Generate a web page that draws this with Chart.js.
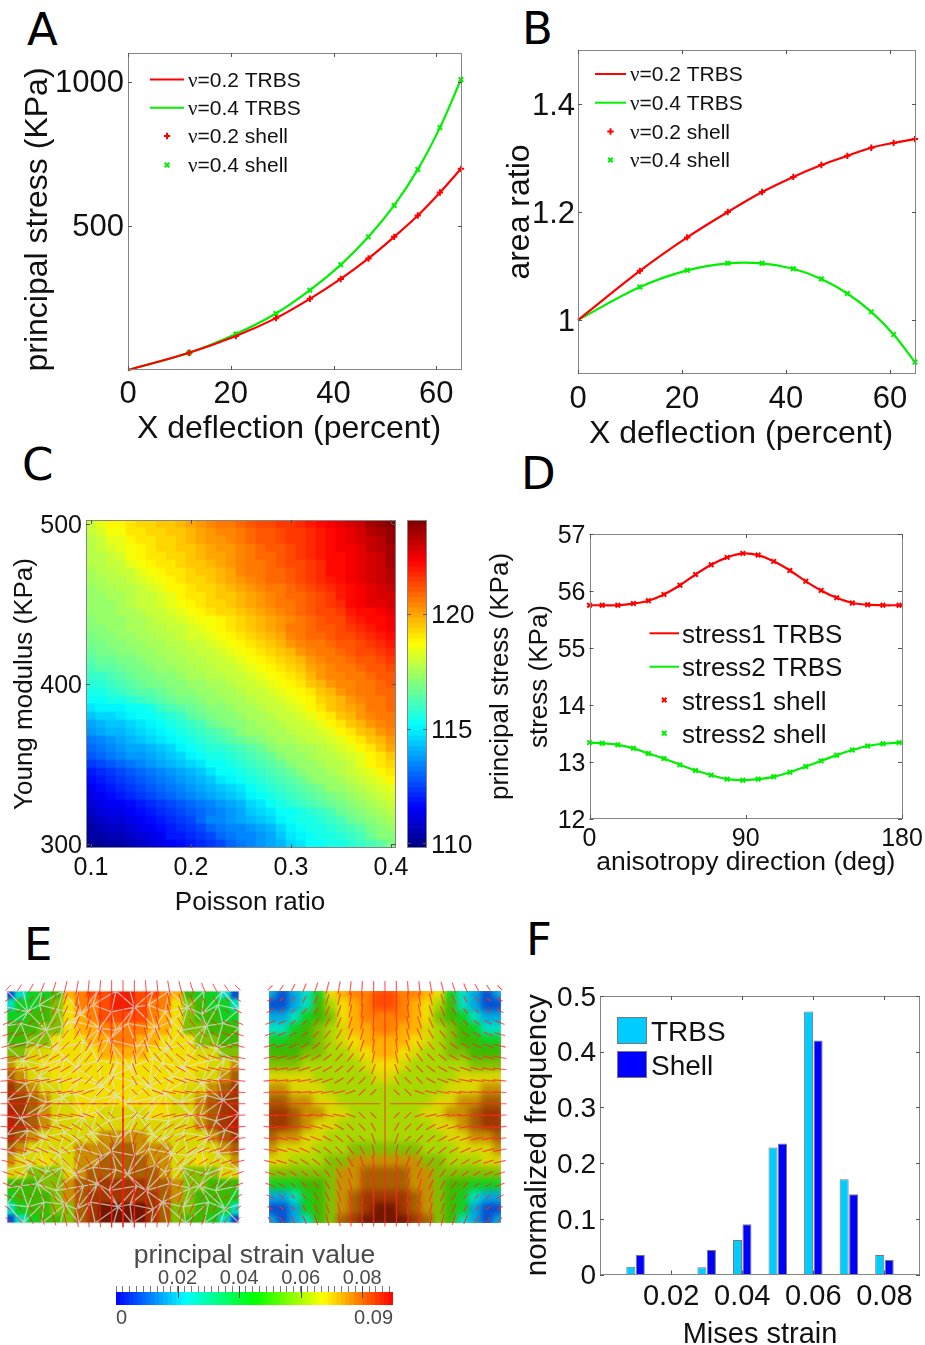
<!DOCTYPE html>
<html>
<head>
<meta charset="utf-8">
<title>Stress and strain panels</title>
<script src="https://cdn.jsdelivr.net/npm/chart.js@4.4.1/dist/chart.umd.min.js"></script>
<style>
html, body { margin: 0; background: #fff; }
#page { position: relative; width: 925px; height: 1345px; overflow: hidden; }
canvas { position: absolute; }
.letter { position: absolute; font: 45px "DejaVu Sans"; line-height: 1; color: #000; }
.clip { position: absolute; overflow: hidden; }
</style>
</head>
<body>
<div id="page">
  <div class="letter" style="left:27px;top:7px">A</div>
  <div class="letter" style="left:522px;top:6px">B</div>
  <div class="letter" style="left:22px;top:442px">C</div>
  <div class="letter" style="left:521px;top:451px">D</div>
  <div class="letter" style="left:24px;top:922px">E</div>
  <div class="letter" style="left:526px;top:917px">F</div>
</div>
<script>
// panel A
const aDeflection = [0, 11.9, 21, 28.8, 35.4, 41.4, 46.8, 51.8, 56.4, 60.7, 64.8];
const aStress02 = [0, 60, 118, 180, 247, 316, 387, 462, 536, 616, 698];
const aStress04 = [0, 60, 125, 196, 277, 365, 462, 571, 696, 841, 1008];
const aXTicks = [0, 20, 40, 60];
const aYTicks = [500, 1000];

// panel B
const bRatio02 = [1, 1.091, 1.153, 1.2, 1.237, 1.265, 1.287, 1.304, 1.319, 1.328, 1.335];
const bRatio04 = [1, 1.061, 1.092, 1.105, 1.105, 1.095, 1.076, 1.049, 1.015, 0.973, 0.922];
const bYTicks = [1, 1.2, 1.4];

// panel C, colour levels (0-63) of the 64 step colormap, top row is 500 KPa
const poissonValues = [];
for (let c = 0; c < 31; c++) poissonValues.push(0.1 + c * 0.01);
const cXTicks = [0.1, 0.2, 0.3, 0.4];
const cYTicks = [300, 400, 500];
const barTicks = [110, 115, 120];
const stressLevels = [
  [36,38,40,40,41,42,42,43,43,44,45,46,47,48,48,49,50,51,51,52,52,53,54,55,56,57,58,59,61,62,63],
  [36,37,39,39,41,41,42,42,43,43,44,45,46,47,47,48,49,50,50,51,52,52,53,54,55,56,57,58,60,61,62],
  [35,36,38,38,40,41,41,42,42,43,44,45,46,46,47,48,49,50,50,51,52,52,53,54,55,56,57,58,59,60,62],
  [35,36,37,38,39,40,41,42,42,43,43,44,45,46,46,47,48,49,50,50,51,52,53,54,55,56,56,57,59,60,61],
  [35,35,36,37,39,40,41,41,42,42,43,44,45,45,46,47,48,49,49,50,51,52,53,54,55,55,56,57,58,59,61],
  [35,35,36,36,38,39,40,41,41,42,43,43,44,45,46,47,48,48,49,50,51,51,52,53,55,55,56,57,58,59,61],
  [34,35,35,36,36,38,39,40,41,41,42,43,43,44,45,47,48,48,49,49,50,51,52,53,55,55,56,57,58,59,60],
  [34,34,35,35,36,37,38,39,40,41,42,42,43,44,45,46,47,48,49,49,50,51,52,53,54,55,56,57,58,59,60],
  [33,34,34,35,35,36,37,38,40,40,41,42,42,43,44,45,46,47,48,48,49,50,51,52,53,54,55,56,57,58,59],
  [33,33,34,34,35,36,36,37,38,40,41,41,42,43,43,44,45,46,47,48,49,49,50,51,52,54,55,56,57,58,58],
  [33,33,33,34,35,36,36,37,38,39,40,41,42,42,43,44,45,46,47,48,48,49,50,51,52,53,55,56,57,57,58],
  [33,33,33,34,34,35,36,36,37,38,39,40,41,42,42,43,44,45,46,47,48,49,50,51,51,52,54,55,55,56,57],
  [32,33,33,33,34,34,35,36,36,37,38,39,39,40,41,42,43,44,45,46,47,48,49,50,51,51,53,54,55,55,56],
  [32,32,33,33,34,34,35,35,36,36,37,38,39,40,41,42,43,44,45,46,48,48,49,50,50,51,52,53,54,55,56],
  [31,32,32,33,33,34,34,35,35,36,37,37,38,39,40,41,42,43,44,45,47,48,49,49,50,51,51,52,53,54,55],
  [31,31,32,32,33,33,34,34,35,35,36,36,37,38,39,40,41,42,43,44,46,47,48,48,49,50,50,51,52,53,54],
  [30,31,31,32,32,33,33,34,34,35,35,36,36,37,38,39,40,41,42,43,44,46,47,48,48,49,50,51,51,52,53],
  [29,30,30,31,31,32,33,33,34,34,35,35,36,36,37,38,39,40,41,42,43,44,46,47,48,48,49,50,50,51,52],
  [28,29,29,30,31,31,32,33,33,34,34,35,35,36,36,37,38,39,40,41,42,43,45,46,47,48,48,49,50,50,51],
  [27,27,28,29,30,31,31,32,32,33,34,34,35,35,36,36,37,38,39,40,41,42,44,46,47,47,48,48,49,50,50],
  [26,26,27,28,29,30,31,31,32,32,33,33,34,34,35,36,36,37,38,39,40,41,43,44,46,47,47,48,48,49,50],
  [25,25,26,27,28,29,29,30,31,32,32,33,33,34,34,35,36,36,37,38,39,40,41,43,44,46,47,48,48,49,49],
  [24,24,25,25,26,27,28,29,30,31,31,32,33,33,34,34,35,36,36,37,38,39,40,42,43,44,46,47,48,48,49],
  [22,23,23,23,24,24,25,27,28,29,30,31,32,32,33,34,34,35,36,36,37,38,40,41,43,44,45,46,48,48,49],
  [20,21,21,22,23,24,24,25,26,27,29,30,31,32,32,33,34,34,35,36,36,37,38,40,41,43,44,46,47,48,48],
  [18,19,20,20,21,22,23,24,25,26,27,28,30,31,32,32,33,34,34,35,36,36,37,38,40,41,43,44,46,47,48],
  [17,18,19,19,20,21,22,23,24,25,26,27,28,29,30,32,33,33,34,34,35,36,36,37,38,40,41,43,44,46,47],
  [15,16,17,18,19,20,21,22,23,24,25,26,27,28,29,30,31,32,33,34,34,35,36,36,37,38,40,41,43,44,46],
  [14,15,16,17,18,18,19,20,21,23,24,25,26,26,27,28,29,30,32,33,33,34,34,35,36,37,38,40,41,43,45],
  [13,14,15,16,17,17,18,19,20,21,23,24,25,25,26,27,28,29,30,32,33,33,34,35,35,36,37,38,40,41,43],
  [11,12,13,14,15,16,17,18,19,20,21,22,24,24,25,26,27,28,29,30,32,33,33,34,35,35,36,38,40,41,42],
  [9,10,11,12,13,14,15,16,17,18,19,20,22,24,24,25,26,27,28,29,30,32,33,33,34,35,36,37,38,40,41],
  [8,9,10,11,12,13,14,15,16,17,18,19,20,22,23,24,25,26,27,28,29,30,32,33,33,34,35,36,37,38,40],
  [7,8,9,10,11,12,13,14,15,16,17,18,19,20,21,22,24,25,26,27,28,29,30,31,33,33,34,35,36,37,38],
  [6,7,8,9,10,11,12,13,14,15,16,17,18,19,20,21,23,24,25,26,27,28,29,30,31,32,33,34,35,36,37],
  [5,6,7,7,8,9,10,11,12,13,14,15,16,17,18,19,21,22,24,25,26,27,28,29,30,31,32,33,34,35,36],
  [4,5,6,6,7,8,9,10,11,12,13,14,15,16,17,18,20,21,22,24,24,25,26,27,28,30,31,32,33,34,35],
  [3,4,5,5,6,7,8,9,10,11,12,14,16,16,17,18,19,20,21,23,24,25,25,26,27,28,30,31,32,33,34],
  [2,3,4,4,5,6,7,8,9,10,11,12,14,15,16,16,17,18,19,21,23,24,25,25,26,27,28,29,31,32,33],
  [2,2,3,3,4,5,6,7,9,9,10,11,12,14,15,16,16,17,18,20,22,23,24,25,25,26,27,28,30,32,32],
  [1,1,2,2,3,4,5,6,7,8,9,10,11,12,14,15,16,17,18,19,21,22,24,24,25,25,26,27,28,29,31]
];

// panel D, the upper curve sits above a break in the axis
const dAngles = [0, 7.3, 16.3, 25.3, 33.9, 42.9, 52.1, 61.1, 70.1, 79.3, 88.3, 97.1, 106.1, 115.4, 124.6, 133.4, 142.4, 151.4, 160.2, 169, 178.3];
const dStress1 = [55.75, 55.75, 55.75, 55.78, 55.83, 55.94, 56.1, 56.29, 56.46, 56.59, 56.66, 56.63, 56.52, 56.36, 56.17, 56.01, 55.88, 55.79, 55.76, 55.75, 55.75];
const dStress2 = [13.34, 13.33, 13.3, 13.24, 13.15, 13.06, 12.95, 12.85, 12.77, 12.7, 12.68, 12.7, 12.74, 12.82, 12.92, 13.02, 13.12, 13.21, 13.28, 13.32, 13.34];
const dBreak = 40;
const dXTicks = [0, 90, 180];
const dYTicks = [12, 13, 14, 15, 16, 17];
const dYLabels = ['12', '13', '14', '55', '56', '57'];

// panel E, left half of each colour field (right half mirrors it), top row first
const fieldPalette = ['#0a4fd0', '#00a8e0', '#00e0c0', '#10d020', '#40b800', '#80c000', '#a8d800', '#d8d800', '#f0e000', '#ffb000', '#ff8000', '#ff4c00', '#c89000', '#a86000', '#a03800', '#701800', '#b82000', '#f02000'];
const meshField = [
  [0,2,3,3,4,9,10,11,11,17],
  [2,3,3,4,5,8,10,10,11,17],
  [3,3,4,4,5,8,9,10,11,11],
  [4,4,4,5,5,8,9,9,10,10],
  [4,4,5,5,8,8,8,9,9,10],
  [5,5,7,7,8,8,8,8,9,9],
  [12,7,7,8,8,8,8,8,8,8],
  [13,12,7,7,8,8,8,8,8,8],
  [14,13,12,7,7,8,8,8,8,8],
  [14,14,13,12,7,7,8,8,8,8],
  [16,14,13,12,7,7,8,8,7,7],
  [16,14,13,12,7,7,7,7,7,7],
  [14,13,12,7,7,7,7,7,12,12],
  [13,12,7,7,7,7,12,12,12,13],
  [12,7,7,8,7,7,12,12,13,13],
  [7,7,5,5,5,7,12,13,13,13],
  [4,4,4,5,5,12,13,13,14,14],
  [3,4,4,4,5,12,13,14,14,14],
  [2,3,4,4,5,5,13,14,15,15],
  [0,2,3,4,4,5,13,14,15,15]
];
const shellField = [
  [1,0,1,2,3,8,9,10,10,11],
  [0,0,1,2,4,6,8,9,10,11],
  [1,1,2,3,4,5,8,9,10,10],
  [2,2,3,4,5,6,7,9,9,10],
  [3,3,4,4,5,6,7,8,9,9],
  [4,4,4,5,5,6,6,7,8,9],
  [5,5,5,6,6,6,6,6,7,8],
  [7,7,7,7,6,6,6,6,6,7],
  [12,12,7,7,7,6,6,6,6,6],
  [13,13,12,12,7,7,6,6,6,6],
  [14,14,13,12,12,7,7,6,6,6],
  [14,14,13,12,7,7,6,6,6,6],
  [13,12,12,7,7,6,6,6,6,6],
  [12,7,7,7,6,6,6,5,5,5],
  [7,7,6,6,6,5,5,12,12,12],
  [5,5,5,5,5,5,12,12,13,13],
  [3,3,3,4,4,5,12,12,13,13],
  [1,1,2,3,4,5,12,13,14,14],
  [0,0,1,3,4,5,12,13,14,15],
  [1,0,1,2,4,5,13,14,15,15]
];
// mesh nodes in percent of the square, measured from the top left corner
const meshX = [
  [0,7,15,24,30,39,47,53,63,70,76,85,93,100],
  [0,9,14,22,32,37,45,55,61,68,78,84,91,100],
  [0,6,17,24,29,40,47,52,64,71,75,86,93,100],
  [0,9,13,21,33,36,44,56,60,69,79,83,90,100],
  [0,7,16,25,30,39,48,53,63,67,76,87,94,100],
  [0,8,14,22,31,41,45,55,61,71,78,84,91,100],
  [0,10,17,24,29,37,47,52,64,68,75,86,93,100],
  [0,6,13,21,33,39,44,56,60,70,79,83,90,100],
  [0,9,16,25,30,36,48,53,63,67,76,87,94,100],
  [0,7,14,22,32,41,45,55,61,71,78,84,91,100],
  [0,10,17,24,29,37,47,52,64,68,75,86,93,100],
  [0,6,13,21,33,39,44,56,60,70,79,83,90,100],
  [0,9,16,25,30,36,48,53,63,67,76,87,94,100],
  [0,7,15,23,31,38,46,54,62,69,77,85,92,100]
];
const meshY = [
  [0,0,0,0,0,0,0,0,0,0,0,0,0,0],
  [7,9,6,8,10,6,9,7,6,9,7,10,6,8],
  [15,14,17,15,13,16,17,14,16,13,17,15,14,16],
  [24,22,23,25,22,24,21,24,23,25,22,23,25,22],
  [31,30,32,29,33,30,31,33,29,31,33,30,29,31],
  [38,40,37,39,38,41,37,39,41,37,38,40,38,39],
  [47,45,48,46,44,47,45,48,46,44,48,45,47,46],
  [54,55,53,56,54,52,56,53,55,56,53,54,56,53],
  [62,60,63,61,64,61,63,60,62,64,61,63,60,62],
  [69,71,68,70,68,71,69,71,68,70,71,68,70,69],
  [77,75,78,76,79,76,77,79,75,78,76,79,76,77],
  [85,84,83,86,84,83,86,84,86,83,85,84,86,84],
  [92,93,91,92,94,91,93,92,94,91,93,91,94,92],
  [100,100,100,100,100,100,100,100,100,100,100,100,100,100]
];
// direction field, upper left quadrant: glyph centres, angle in degrees, length
const glyphCols = [5, 54, 104, 153, 203, 252, 302, 351, 401, 450, 500];
const glyphRows = [-14, 36, 86, 136, 186, 236, 286, 336, 386, 436, 486];
const glyphAngles = [
  [45,55,62,68,72,76,80,84,86,88,90],
  [35,45,55,62,68,72,77,82,85,88,90],
  [28,35,45,52,60,66,72,78,83,87,90],
  [22,28,38,45,52,60,66,74,80,86,90],
  [18,22,30,38,45,52,60,68,76,84,90],
  [14,18,24,30,38,45,52,60,72,82,90],
  [10,14,18,24,30,38,45,52,60,78,90],
  [7,10,12,18,22,30,38,45,45,70,90],
  [5,6,8,10,15,20,30,45,45,60,90],
  [3,3,4,5,8,10,12,20,45,45,90],
  [0,0,0,0,0,0,0,0,0,0,90]
];
const glyphLengths = [
  [25,25,30,35,40,45,48,50,50,50,50],
  [25,20,22,28,35,40,45,50,50,50,50],
  [30,22,20,25,30,38,45,50,50,50,50],
  [38,28,25,25,30,36,42,48,50,50,50],
  [40,35,30,30,30,36,40,45,45,50,50],
  [45,40,38,36,36,35,38,40,45,50,50],
  [50,45,45,42,40,38,38,38,36,45,50],
  [50,50,48,45,45,40,38,35,30,40,50],
  [50,50,50,50,50,45,40,35,35,35,50],
  [50,50,50,50,50,50,45,40,35,30,50],
  [50,50,50,50,50,50,50,50,50,50,50]
];
const strainMajorTicks = [0.02, 0.04, 0.06, 0.08];
const strainEndTicks = [0, 0.09];

// panel F
const fBins = [0.01, 0.02, 0.03, 0.04, 0.05, 0.06, 0.07, 0.08];
const fTrbs = [0.014, 0, 0.013, 0.062, 0.228, 0.472, 0.171, 0.035];
const fShell = [0.035, 0, 0.044, 0.09, 0.235, 0.42, 0.144, 0.026];
const fXTicks = [0.02, 0.04, 0.06, 0.08];
const fYTicks = [0, 0.1, 0.2, 0.3, 0.4, 0.5];

const RED = '#ff0000';
const GREEN = '#00f000';
const SANS = '"Liberation Sans"';
const INK = '#111';

Chart.defaults.animation = false;
Chart.defaults.font.family = SANS;
Chart.defaults.color = INK;

function clamp01(v) { return Math.max(0, Math.min(1, v)); }
function rgb(r, g, b) { return `rgb(${Math.round(r * 255)},${Math.round(g * 255)},${Math.round(b * 255)})`; }
function jetColor(level) {
  const t = (level + 0.5) / 64;
  return rgb(clamp01(1.5 - Math.abs(4 * t - 3)), clamp01(1.5 - Math.abs(4 * t - 2)), clamp01(1.5 - Math.abs(4 * t - 1)));
}
function rainbowColor(t) {
  const stops = [[0, 0, 1], [0, 1, 1], [0, 1, 0], [1, 1, 0], [1, 0, 0]];
  const p = Math.min(t * 4, 3.999), i = Math.floor(p), f = p - i;
  return rgb(stops[i][0] + (stops[i + 1][0] - stops[i][0]) * f, stops[i][1] + (stops[i + 1][1] - stops[i][1]) * f, stops[i][2] + (stops[i + 1][2] - stops[i][2]) * f);
}

function addCanvas(box, parent) {
  const c = document.createElement('canvas');
  c.width = box.w; c.height = box.h;
  c.style.left = box.x + 'px'; c.style.top = box.y + 'px';
  c.style.width = box.w + 'px'; c.style.height = box.h + 'px';
  (parent || document.getElementById('page')).appendChild(c);
  return c;
}
function zip(xs, ys) { return xs.map((x, i) => ({ x: x, y: ys[i] })); }
function fitSize(size) {
  return s => {
    if (s.isHorizontal()) s.height = size; else s.width = size;
    s.paddingLeft = s.paddingRight = s.paddingTop = s.paddingBottom = 0;
  };
}
function axis(min, max, values, labels, fontSize, pad, size, title) {
  return {
    type: 'linear', min: min, max: max, offset: false,
    grid: { display: false, drawTicks: false }, border: { display: false },
    afterBuildTicks: s => { s.ticks = values.map(v => ({ value: v })); },
    afterFit: fitSize(size),
    ticks: {
      autoSkip: false, maxRotation: 0, minRotation: 0, padding: pad, color: INK,
      font: { size: fontSize },
      callback: (v, i) => labels ? labels[i] : String(v)
    },
    // bottom axes read padding.bottom, left axes read padding.top
    title: title ? { display: true, text: title.text, color: INK, font: { size: title.size }, padding: { top: title.pad, bottom: title.pad } } : { display: false }
  };
}
// vertical axes: the labels sit a little under their ticks in the reference
function yAxis(min, max, values, labels, fontSize, pad, size, title) {
  const a = axis(min, max, values, labels, fontSize, pad, size, title);
  a.ticks.labelOffset = 2;
  return a;
}
function gaps(box, plot) {
  return { left: plot.l - box.x, top: plot.t - box.y, right: box.x + box.w - plot.r, bottom: box.y + box.h - plot.b };
}
// frame of the axes with short inward ticks on all sides
const framePlugin = {
  id: 'axesFrame',
  afterDraw(chart) {
    const { ctx, chartArea: a, scales } = chart;
    ctx.save();
    ctx.strokeStyle = '#858585';
    ctx.lineWidth = 1;
    ctx.strokeRect(Math.round(a.left) + 0.5, Math.round(a.top) + 0.5, Math.round(a.right - a.left) - 1, Math.round(a.bottom - a.top) - 1);
    ctx.strokeStyle = '#555';
    ctx.beginPath();
    if (scales.x.options.display) scales.x.ticks.forEach(t => {
      const p = Math.round(scales.x.getPixelForValue(t.value)) + 0.5;
      ctx.moveTo(p, a.bottom); ctx.lineTo(p, a.bottom - 4);
      ctx.moveTo(p, a.top); ctx.lineTo(p, a.top + 4);
    });
    scales.y.ticks.forEach(t => {
      const p = Math.round(scales.y.getPixelForValue(t.value)) + 0.5;
      ctx.moveTo(a.left, p); ctx.lineTo(a.left + 4, p);
      ctx.moveTo(a.right, p); ctx.lineTo(a.right - 4, p);
    });
    ctx.stroke();
    ctx.restore();
  }
};
// slides a native axis title along the page
function titleShift(id, dx, dy) {
  return {
    id: 'titleShift' + id,
    afterLayout(chart) {
      const s = chart.scales[id];
      if (s.shifted) return;
      s.shifted = true;
      const draw = s.drawTitle;
      s.drawTitle = function () {
        this.ctx.save();
        this.ctx.translate(dx, dy);
        draw.call(this);
        this.ctx.restore();
      };
    }
  };
}
// legend placed inside the axes, rows follow the dataset order
function keyPlugin(k) {
  return {
    id: 'plotKey',
    afterDraw(chart) {
      const ctx = chart.ctx, off = chart.canvas.getBoundingClientRect();
      ctx.save();
      ctx.textBaseline = 'middle';
      chart.data.datasets.forEach((d, i) => {
        const y = k.ys[i] - off.top;
        if (k.swatch) {
          ctx.fillStyle = d.backgroundColor; ctx.strokeStyle = '#777';
          ctx.fillRect(k.x0 - off.left, k.ys[i] - off.top, k.x1 - k.x0, k.swatch);
          ctx.strokeRect(k.x0 - off.left + 0.5, k.ys[i] - off.top + 0.5, k.x1 - k.x0 - 1, k.swatch - 1);
        } else if (d.showLine) {
          ctx.strokeStyle = d.borderColor; ctx.lineWidth = 2;
          ctx.beginPath(); ctx.moveTo(k.x0 - off.left, y); ctx.lineTo(k.x1 - off.left, y); ctx.stroke();
        } else {
          ctx.strokeStyle = d.borderColor; ctx.fillStyle = d.borderColor; ctx.lineWidth = d.pointBorderWidth;
          Chart.helpers.drawPoint(ctx, { pointStyle: d.pointStyle, radius: d.pointRadius, borderWidth: d.pointBorderWidth, rotation: 0 }, (k.x0 + k.x1) / 2 - off.left, y);
        }
        ctx.fillStyle = INK;
        let x = k.tx - off.left, text = d.label;
        const ty = (k.swatch ? y + k.swatch / 2 : y) + k.dy;
        if (text[0] === '\u03bd') {
          ctx.font = `${k.size}px "Liberation Serif"`;
          ctx.fillText(text[0], x, ty);
          x += ctx.measureText(text[0]).width;
          text = text.slice(1);
        }
        ctx.font = `${k.size}px ${SANS}`;
        ctx.fillText(text, x, ty);
      });
      ctx.restore();
    }
  };
}
function curve(label, pts, color) {
  return { label: label, data: pts, showLine: true, borderColor: color, backgroundColor: color, borderWidth: 2.2, pointRadius: 0, tension: 0.35, clip: 8 };
}
function marks(label, pts, color, style) {
  return { label: label, data: pts, showLine: false, borderColor: color, backgroundColor: color, pointStyle: style, pointRadius: 3.2, pointBorderWidth: 2, pointBorderColor: color, pointBackgroundColor: color, clip: 8 };
}
function xyChart(box, plot, cfg) {
  const g = gaps(box, plot);
  return new Chart(addCanvas(box), {
    type: cfg.type || 'scatter',
    data: { datasets: cfg.datasets },
    options: {
      responsive: false,
      layout: { padding: { top: g.top, right: g.right, left: 0, bottom: 0 } },
      plugins: { legend: { display: false }, tooltip: { enabled: false } },
      scales: cfg.scales(g)
    },
    plugins: [framePlugin].concat(cfg.plugins || [])
  });
}

// A
(function () {
  const box = { x: 0, y: 40, w: 480, h: 410 }, plot = { l: 128, t: 53, r: 462, b: 370 };
  xyChart(box, plot, {
    datasets: [
      curve('\u03bd=0.2 TRBS', zip(aDeflection, aStress02), RED),
      curve('\u03bd=0.4 TRBS', zip(aDeflection, aStress04), GREEN),
      marks('\u03bd=0.2 shell', zip(aDeflection, aStress02).slice(1), RED, 'cross'),
      marks('\u03bd=0.4 shell', zip(aDeflection, aStress04).slice(1), GREEN, 'crossRot')
    ],
    scales: g => ({
      x: axis(0, 65, aXTicks, null, 31, 6, g.bottom, { text: 'X deflection (percent)', size: 32, pad: 2 }),
      y: yAxis(0, 1100, aYTicks, null, 31, 4, g.left, { text: 'principal stress (KPa)', size: 32, pad: 38 - 19 })
    }),
    plugins: [titleShift('x', -6, 0), titleShift('y', 0, 8), keyPlugin({ x0: 150, x1: 184, tx: 188, size: 21, dy: 1.5, ys: [79.5, 107.7, 136, 165] })]
  });
})();

// B
(function () {
  const box = { x: 490, y: 40, w: 435, h: 415 }, plot = { l: 578, t: 50, r: 916, b: 374 };
  xyChart(box, plot, {
    datasets: [
      curve('\u03bd=0.2 TRBS', zip(aDeflection, bRatio02), RED),
      curve('\u03bd=0.4 TRBS', zip(aDeflection, bRatio04), GREEN),
      marks('\u03bd=0.2 shell', zip(aDeflection, bRatio02).slice(1), RED, 'cross'),
      marks('\u03bd=0.4 shell', zip(aDeflection, bRatio04).slice(1), GREEN, 'crossRot')
    ],
    scales: g => ({
      x: axis(0, 65, aXTicks, null, 31, 6.5, g.bottom, { text: 'X deflection (percent)', size: 32, pad: 2 }),
      y: yAxis(0.9, 1.5, bYTicks, null, 31, 3, g.left, { text: 'area ratio', size: 32, pad: 520 - 490 - 19 })
    }),
    plugins: [titleShift('x', -6, 0), keyPlugin({ x0: 595, x1: 626, tx: 630, size: 21, dy: 1.5, ys: [74, 102.7, 131.5, 160] })]
  });
})();

// C
(function () {
  const box = { x: 0, y: 510, w: 425, h: 410 }, plot = { l: 86, t: 520, r: 396, b: 848 };
  const cells = [], colors = [];
  stressLevels.forEach((row, r) => {
    const modulus = 500 - r * 5;
    row.forEach((level, c) => {
      cells.push({ x: poissonValues[c], y: [modulus - 2.5, modulus + 2.5] });
      colors.push(jetColor(level));
    });
  });
  xyChart(box, plot, {
    type: 'bar',
    datasets: [{ data: cells, backgroundColor: colors, barThickness: 10, grouped: false }],
    scales: g => ({
      x: axis(0.095, 0.405, cXTicks, null, 25, 5, g.bottom, { text: 'Poisson ratio', size: 26, pad: 1.5 }),
      y: yAxis(297.5, 502.5, cYTicks, null, 25, 4, g.left, { text: 'Young modulus (KPa)', size: 26, pad: 25 - 16 })
    }),
    plugins: [titleShift('x', 9, 0)]
  });

  // colour bar
  const barBox = { x: 402, y: 510, w: 80, h: 350 }, barPlot = { l: 407, t: 520, r: 427, b: 848 };
  const g = gaps(barBox, barPlot), bands = [], bandColors = [];
  for (let i = 0; i < 64; i++) {
    bands.push({ x: 0, y: [109.8 + i * 14.3 / 64, 109.8 + (i + 1) * 14.3 / 64] });
    bandColors.push(jetColor(i));
  }
  new Chart(addCanvas(barBox), {
    type: 'bar',
    data: { datasets: [{ data: bands, backgroundColor: bandColors, barThickness: 20, grouped: false }] },
    options: {
      responsive: false,
      layout: { padding: { left: g.left, top: g.top, bottom: g.bottom, right: 0 } },
      plugins: { legend: { display: false }, tooltip: { enabled: false } },
      scales: {
        x: { type: 'linear', display: false, offset: false, min: -0.5, max: 0.5 },
        y: Object.assign(yAxis(109.8, 124.1, barTicks, null, 26, 4, g.right), { position: 'right' })
      }
    },
    plugins: [framePlugin]
  });
})();

// D
(function () {
  const box = { x: 480, y: 515, w: 445, h: 365 }, plot = { l: 589.5, t: 534, r: 902, b: 819 };
  const s1 = zip(dAngles, dStress1.map(v => v - dBreak)), s2 = zip(dAngles, dStress2);
  xyChart(box, plot, {
    datasets: [
      curve('stress1 TRBS', s1.concat({ x: 180, y: s1[s1.length - 1].y }), RED),
      curve('stress2 TRBS', s2.concat({ x: 180, y: s2[s2.length - 1].y }), GREEN),
      marks('stress1 shell', s1, RED, 'crossRot'),
      marks('stress2 shell', s2, GREEN, 'crossRot')
    ],
    scales: g => ({
      x: axis(0, 180, dXTicks, null, 25, 5, g.bottom, { text: 'anisotropy direction (deg)', size: 26.5, pad: 1 }),
      y: Object.assign(yAxis(12, 17, dYTicks, dYLabels, 25, 4, 69.5, { text: 'stress (KPa)', size: 26, pad: 540 - 520 - 16 }), { weight: 0 }),
      yOuter: {
        type: 'linear', position: 'left', weight: 1, min: 0, max: 1,
        grid: { display: false }, border: { display: false }, ticks: { display: false },
        afterFit: fitSize(40),
        title: { display: true, text: 'principal stress (KPa)', color: INK, font: { size: 26 }, padding: { top: 501.7 - 480 - 16, bottom: 0 } }
      }
    }),
    plugins: [keyPlugin({ x0: 649.5, x1: 679, tx: 682, size: 26, dy: 2.5, ys: [633.3, 666.7, 700, 733.3] })]
  });
})();

// E, colour field bars inside a clipping square
function fieldChart(x, y, rows, blur) {
  const wrap = document.createElement('div');
  wrap.className = 'clip';
  wrap.style.cssText = `left:${x}px;top:${y}px;width:232px;height:232px`;
  document.getElementById('page').appendChild(wrap);
  const c = addCanvas({ x: -4, y: -4, w: 240, h: 240 }, wrap);
  c.style.filter = `blur(${blur}px)`;
  const cells = [], colors = [];
  rows.forEach((half, r) => {
    half.concat(half.slice().reverse()).forEach((idx, col) => {
      cells.push({ x: col, y: [r - 0.5, r + 0.5] });
      colors.push(fieldPalette[idx]);
    });
  });
  new Chart(c, {
    type: 'bar',
    data: { datasets: [{ data: cells, backgroundColor: colors, barThickness: 12, grouped: false }] },
    options: {
      responsive: false,
      plugins: { legend: { display: false }, tooltip: { enabled: false } },
      scales: {
        x: { type: 'linear', display: false, offset: false, min: -0.5, max: 19.5 },
        y: { type: 'linear', display: false, min: -0.5, max: 19.5, reverse: true }
      }
    }
  });
}
// direction glyphs mirrored into all four quadrants, per mille of the square
function glyphSegments(scale) {
  const pts = [], midX = 500, midY = glyphRows[glyphRows.length - 1];
  const lastCol = glyphCols.length - 1, lastRow = glyphRows.length - 1;
  glyphAngles.forEach((row, j) => row.forEach((deg, i) => {
    const half = glyphLengths[j][i] * scale / 2;
    const dx = half * Math.cos(deg * Math.PI / 180), dy = half * Math.sin(deg * Math.PI / 180);
    [[1, 1], [-1, 1], [1, -1], [-1, -1]].forEach(q => {
      if ((i === lastCol && q[0] < 0) || (j === lastRow && q[1] < 0)) return;
      const cx = midX + q[0] * (glyphCols[i] - midX), cy = midY + q[1] * (glyphRows[j] - midY);
      pts.push({ x: cx - q[0] * dx, y: cy + q[1] * dy }, { x: cx + q[0] * dx, y: cy - q[1] * dy }, { x: null, y: null });
    });
  }));
  return pts;
}
function meshEdges() {
  const pts = [], n = meshX.length;
  const node = (r, c) => ({ x: meshX[r][c] * 10, y: meshY[r][c] * 10 });
  for (let r = 0; r < n; r++) {
    for (let c = 0; c < n; c++) {
      if (c < n - 1) pts.push(node(r, c), node(r, c + 1), { x: null, y: null });
      if (r < n - 1) pts.push(node(r, c), node(r + 1, c), { x: null, y: null });
      if (r < n - 1 && c < n - 1) {
        if ((r * 7 + c * 5) % 3 === 0) pts.push(node(r, c), node(r + 1, c + 1), { x: null, y: null });
        else pts.push(node(r, c + 1), node(r + 1, c), { x: null, y: null });
      }
    }
  }
  return pts;
}
function overlayChart(x, y, datasets) {
  new Chart(addCanvas({ x: x - 12, y: y - 12, w: 256, h: 256 }), {
    type: 'scatter',
    data: { datasets: datasets },
    options: {
      responsive: false,
      plugins: { legend: { display: false }, tooltip: { enabled: false } },
      scales: {
        x: { type: 'linear', display: false, min: -51.7, max: 1051.7 },
        y: { type: 'linear', display: false, min: -51.7, max: 1051.7, reverse: true }
      }
    }
  });
}
fieldChart(7, 991, meshField, 1.5);
overlayChart(7, 991, [
  { data: glyphSegments(1.3), showLine: true, pointRadius: 0, borderColor: 'rgba(255,30,30,0.8)', borderWidth: 1, spanGaps: false },
  { data: meshEdges(), showLine: true, pointRadius: 0, borderColor: 'rgba(225,225,225,0.7)', borderWidth: 1.3, spanGaps: false }
]);
fieldChart(269, 991, shellField, 3);
overlayChart(269, 991, [
  { data: glyphSegments(1.15), showLine: true, pointRadius: 0, borderColor: 'rgba(255,40,40,0.75)', borderWidth: 1.2, spanGaps: false }
]);

// E colour bar
(function () {
  const box = { x: 100, y: 1240, w: 310, h: 95 }, plot = { l: 116, t: 1292, r: 393, b: 1305 };
  const g = gaps(box, plot), bands = [], colors = [];
  for (let i = 0; i < 64; i++) {
    bands.push({ y: 0, x: [i * 0.09 / 64, (i + 1) * 0.09 / 64] });
    colors.push(rainbowColor((i + 0.5) / 64));
  }
  const minor = [];
  for (let i = 0; i <= 40; i++) minor.push(i * 0.02 / 9);
  const strainText = '#4a4a4a';
  new Chart(addCanvas(box), {
    type: 'bar',
    data: { datasets: [{ data: bands, backgroundColor: colors, barThickness: 13, grouped: false, xAxisID: 'x' }] },
    options: {
      indexAxis: 'y',
      responsive: false,
      layout: { padding: { left: g.left, right: g.right, top: 0, bottom: 0 } },
      plugins: {
        legend: { display: false }, tooltip: { enabled: false },
        title: { display: true, text: 'principal strain value', color: strainText, padding: { top: 0, bottom: -8 }, font: { size: 26.5, weight: 'normal' } }
      },
      scales: {
        y: { type: 'linear', display: false, offset: false, min: -0.5, max: 0.5 },
        x: {
          type: 'linear', position: 'bottom', min: 0, max: 0.09,
          grid: { display: false, drawTicks: false }, border: { display: false },
          afterBuildTicks: s => { s.ticks = strainEndTicks.map(v => ({ value: v })); },
          afterFit: fitSize(g.bottom),
          ticks: { autoSkip: false, maxRotation: 0, align: 'inner', padding: 1, color: strainText, font: { size: 20 }, callback: v => String(v) }
        },
        xTop: {
          type: 'linear', position: 'top', min: 0, max: 0.09,
          grid: { display: true, drawOnChartArea: false, drawTicks: true, tickLength: 6, color: '#777' }, border: { display: false },
          afterBuildTicks: s => { s.ticks = minor.map(v => ({ value: v })); },
          afterFit: fitSize(g.top - 23.8),
          ticks: {
            autoSkip: false, maxRotation: 0, padding: -4, color: strainText, font: { size: 20 },
            callback: v => {
              const major = strainMajorTicks.find(t => Math.abs(t - v) < 1e-6);
              return major ? String(major) : '';
            }
          }
        }
      }
    },
    plugins: [{
      id: 'strainMarks',
      afterDraw(chart) {
        const { ctx, scales, chartArea: a } = chart;
        ctx.save();
        ctx.strokeStyle = '#444';
        ctx.beginPath();
        strainMajorTicks.forEach(v => {
          const p = Math.round(scales.xTop.getPixelForValue(v)) + 0.5;
          ctx.moveTo(p, a.top - 6); ctx.lineTo(p, a.top + 6);
        });
        ctx.stroke();
        ctx.restore();
      }
    }]
  });
})();

// F
(function () {
  const box = { x: 520, y: 985, w: 405, h: 375 }, plot = { l: 600, t: 996, r: 920, b: 1274.5 };
  const bar = (label, ys, color) => ({
    label: label, data: zip(fBins, ys), backgroundColor: color, borderColor: '#777', borderWidth: 1,
    categoryPercentage: 0.534, barPercentage: 0.95
  });
  xyChart(box, plot, {
    type: 'bar',
    datasets: [bar('TRBS', fTrbs, '#00ccff'), bar('Shell', fShell, '#0000ff')],
    scales: g => ({
      x: axis(0, 0.09, fXTicks, null, 29, 5, g.bottom, { text: 'Mises strain', size: 29, pad: 8 }),
      y: yAxis(0, 0.5, fYTicks, null, 28, 4, g.left, { text: 'normalized frequency', size: 29.5, pad: 538 - 520 - 17.7 })
    }),
    plugins: [keyPlugin({ x0: 617, x1: 647, tx: 651, size: 28, swatch: 27, dy: 2.5, ys: [1017, 1051] })]
  });
})();
</script>
</body>
</html>
